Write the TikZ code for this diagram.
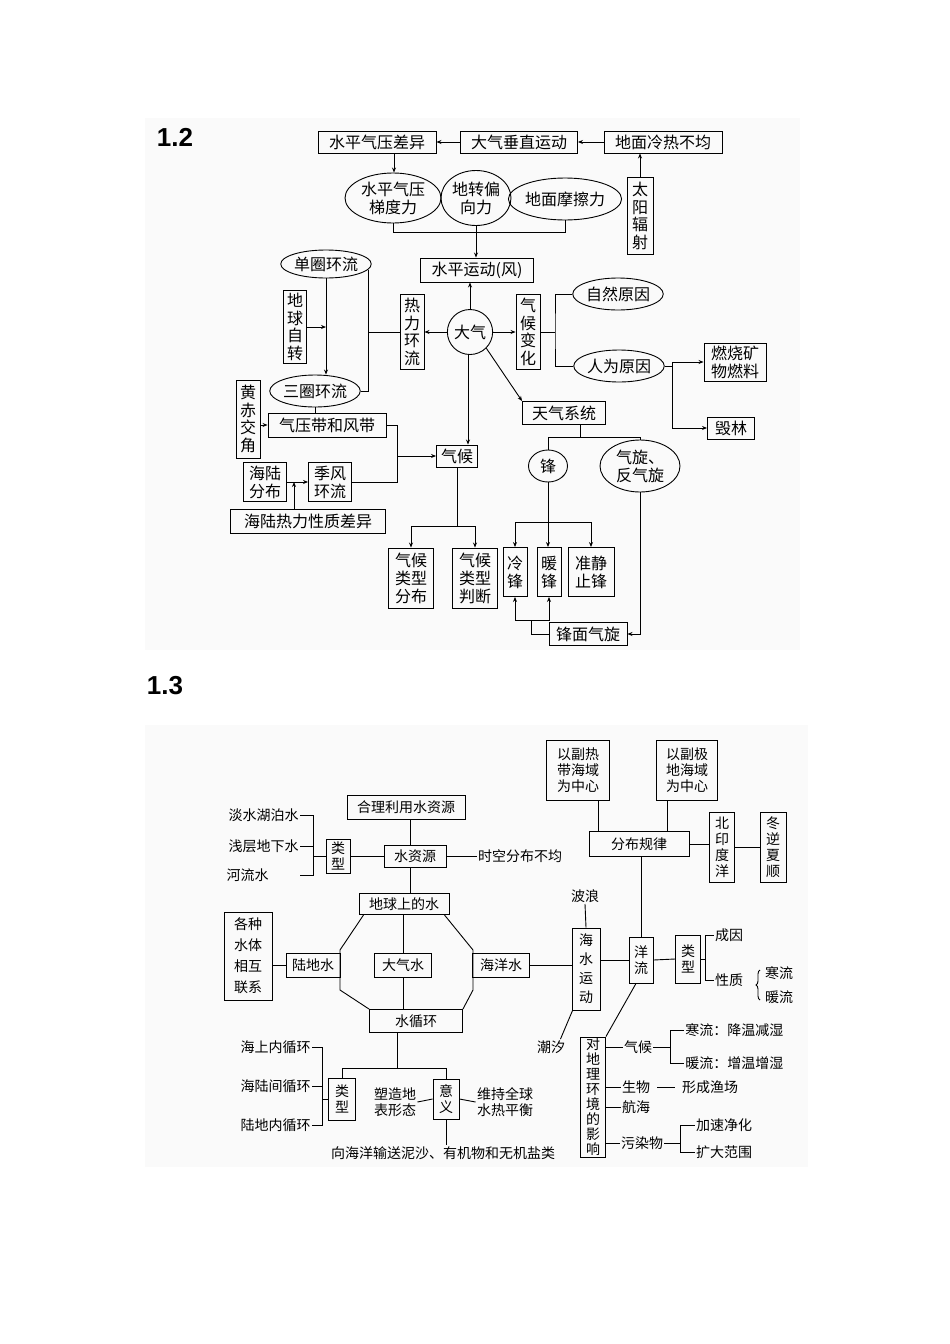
\documentclass[tikz,border=0pt]{standalone}
\usepackage{fontspec}
\setmainfont{Noto Sans CJK SC}
\newfontfamily\labf{Liberation Sans}
\usetikzlibrary{shapes.geometric,arrows.meta,decorations.pathreplacing}
\begin{document}
\begin{tikzpicture}[x=1pt,y=-1pt,line width=0.9pt,
  box/.style={draw,rectangle,inner sep=1pt,align=center},
  el/.style={draw,ellipse,inner sep=0pt,align=center},
  vb/.style={box,font=\fontsize{16}{17.5}\selectfont},
  arr/.style={-{Stealth[length=5pt,width=4pt]}},
  A/.style={font=\fontsize{16}{18}\selectfont},
  B/.style={font=\fontsize{14}{16}\selectfont},
  tx/.style={B,inner sep=1pt,align=center}]
\useasboundingbox (0,0) rectangle (950,1344);
\fill[gray!4] (145,118) rectangle (800,650);
\fill[gray!4] (145,725) rectangle (808,1167);
\node[font=\labf\bfseries\fontsize{26}{28}\selectfont] (L12) at (175,137) {1.2};
\node[font=\labf\bfseries\fontsize{26}{28}\selectfont] (L13) at (165,686) {1.3};
% ---------- 1.2 ----------
\begin{scope}[every node/.append style={A}]
\node[box,minimum width=118,minimum height=22] (a1) at (377,142) {水平气压差异};
\node[box,minimum width=117,minimum height=22] (a2) at (519,142) {大气垂直运动};
\node[box,minimum width=118,minimum height=22] (a3) at (663,142) {地面冷热不均};
\node[vb,minimum width=26,minimum height=77] (sun) at (640,216) {太\\阳\\辐\\射};
\node[el,minimum width=96,minimum height=50] (e1) at (393,198) {水平气压\\梯度力};
\node[el,minimum width=70,minimum height=55] (e2) at (476,198) {地转偏\\向力};
\node[el,minimum width=104,minimum height=42] (e3) at (565,199) {地面摩擦力};
\node[box,minimum width=113,minimum height=24] (wind) at (477,270) {水平运动(风)};
\node[el,minimum width=88,minimum height=28] (danquan) at (326,264) {单圈环流};
\node[vb,minimum width=23,minimum height=73] (diqiu) at (295,327) {地\\球\\自\\转};
\node[vb,minimum width=24,minimum height=75] (reli) at (412,332) {热\\力\\环\\流};
\node[el,minimum width=45,minimum height=45] (daqi) at (470,332) {大气};
\node[vb,minimum width=24,minimum height=75] (qhbh) at (528,332) {气\\候\\变\\化};
\node[el,minimum width=82,minimum height=32] (ziran) at (618,294) {自然原因};
\node[el,minimum width=84,minimum height=32] (renwei) at (619,366) {人为原因};
\node[box,minimum width=62,minimum height=38] (ranshao) at (735,362) {燃烧矿\\物燃料};
\node[box,minimum width=47,minimum height=22] (huilin) at (731,428) {毁林};
\node[el,minimum width=84,minimum height=32] (sanquan) at (315,391) {三圈环流};
\node[vb,minimum width=24,minimum height=78] (huangchi) at (248,419) {黄\\赤\\交\\角};
\node[box,minimum width=118,minimum height=24] (qiya) at (327,425) {气压带和风带};
\node[box,minimum width=41,minimum height=22] (qihou) at (457,456) {气候};
\node[box,minimum width=83,minimum height=23] (tianqi) at (564,413) {天气系统};
\node[box,minimum width=43,minimum height=39] (haelu) at (265,482) {海陆\\分布};
\node[box,minimum width=43,minimum height=39] (jifeng) at (330,482) {季风\\环流};
\node[box,minimum width=155,minimum height=24] (hlre) at (308,521) {海陆热力性质差异};
\node[box,minimum width=45,minimum height=60] (lx1) at (411,578) {气候\\类型\\分布};
\node[box,minimum width=45,minimum height=60] (lx2) at (475,578) {气候\\类型\\判断};
\node[el,minimum width=39,minimum height=32] (feng) at (548,466) {锋};
\node[el,minimum width=80,minimum height=52] (qixuan) at (640,466) {气旋、\\反气旋};
\node[box,minimum width=24,minimum height=49] (leng) at (515,572) {冷\\锋};
\node[box,minimum width=24,minimum height=49] (nuan) at (549,572) {暖\\锋};
\node[box,minimum width=46,minimum height=49] (zhun) at (591,572) {准静\\止锋};
\node[box,minimum width=78,minimum height=23] (fmqx) at (588,634) {锋面气旋};
\end{scope}
\draw[arr] (a2) -- (a1);
\draw[arr] (a3) -- (a2);
\draw[arr] (sun) -- (sun |- a3.south);
\draw[arr] ([xshift=17]a1.south) -- ([xshift=17]a1.south |- e1.north);
\draw (e1.south) -- ++(0,9) -| (e3.south);
\draw[arr] (e2.south) -- (e2.south |- wind.north);
\draw[arr] (daqi.north) -- (daqi.north |- wind.south);
\draw[arr] (daqi.west) -- (reli.east);
\draw[arr] (daqi.east) -- (qhbh.west);
\coordinate (b1) at (555,332);
\draw (qhbh.east) -- (b1);
\draw (ziran.west) -| (b1) |- (renwei.west);
\coordinate (b2) at (672,366);
\draw (renwei.east) -- (b2);
\draw[arr] (b2) |- (ranshao.west);
\draw[arr] (b2) |- (huilin.west);
\coordinate (t0) at (368,270);
\coordinate (t1) at (368,332);
\coordinate (t2) at (368,391);
\draw (t0) -- (t2) -- (sanquan.east);
\draw (reli.west) -- (t1);
\draw[arr] (danquan.south) -- (danquan.south |- sanquan.north);
\draw[arr] (diqiu.east) -- (diqiu.east -| danquan.south);
\draw (sanquan.south) -- (sanquan.south |- qiya.north);
\draw[arr] (huangchi.east |- qiya) -- (qiya.west);
\coordinate (q1) at (397,456);
\draw (qiya.east) -| (q1);
\draw (jifeng.east) -| (q1);
\draw[arr] (q1) -- (qihou.west);
\draw[arr] (haelu.east) -- (jifeng.west);
\draw[arr] ([xshift=-14]hlre.north) -- ([xshift=-14]hlre.north |- haelu.east);
\draw[arr] ([xshift=-2]daqi.south) -- ([xshift=-2]daqi.south |- qihou.north);
\draw[arr] (daqi.south east) -- (tianqi.north west);
\coordinate (c1) at (457,526);
\draw (qihou.south) -- (c1);
\draw[arr] (c1) -| (lx1.north);
\draw[arr] (c1) -| (lx2.north);
\coordinate (c2) at (580,437);
\draw (tianqi.south -| c2) -- (c2);
\draw (c2) -| (feng.north);
\draw (c2) -| (qixuan.north);
\coordinate (c3) at (549,522);
\draw[arr] (feng.south) -- (feng.south |- nuan.north);
\draw[arr] (c3) -| (leng.north);
\draw[arr] (c3) -| (zhun.north);
\draw[arr] (qixuan.south) |- (fmqx.east);
\coordinate (c4) at (531,634);
\coordinate (c5) at (531,620);
\draw (fmqx.west) -- (c4) -- (c5);
\draw[arr] (c5) -| (leng.south);
\draw[arr] (c5) -| (nuan.south);
% ---------- 1.3 ----------
\begin{scope}[every node/.append style={B}]
\node[box,minimum width=63,minimum height=60] (n1) at (578,770) {以副热\\带海域\\为中心};
\node[box,minimum width=61,minimum height=60] (n2) at (687,770) {以副极\\地海域\\为中心};
\node[box,minimum width=100,minimum height=25] (fb) at (639,844) {分布规律};
\node[box,minimum width=25,minimum height=70] (by) at (722,847) {北\\印\\度\\洋};
\node[box,minimum width=26,minimum height=70] (dn) at (773,847) {冬\\逆\\夏\\顺};
\node[box,minimum width=118,minimum height=24] (hl) at (406,807) {合理利用水资源};
\node[box,minimum width=62,minimum height=22] (szy) at (415,856) {水资源};
\node[tx] (sk) at (520,856) {时空分布不均};
\node[box,minimum width=24,minimum height=34] (lx) at (338,856) {类\\型};
\node[tx,anchor=east] (t1) at (300,815) {淡水湖泊水};
\node[tx,anchor=east] (t2) at (300,846) {浅层地下水};
\node[tx,anchor=east] (t3) at (270,875) {河流水};
\node[box,minimum width=90,minimum height=21] (dq) at (404,904) {地球上的水};
\node[box,minimum width=54,minimum height=24] (ld) at (313,965) {陆地水};
\node[box,minimum width=57,minimum height=24] (dqs) at (403,965) {大气水};
\node[box,minimum width=57,minimum height=24] (hy) at (501,965) {海洋水};
\node[box,minimum width=93,minimum height=23] (xh) at (416,1021) {水循环};
\node[box,minimum width=48,minimum height=88,font=\fontsize{14}{21}\selectfont] (gz) at (248,956) {各种\\水体\\相互\\联系};
\node[box,minimum width=28,minimum height=82,font=\fontsize{14}{19}\selectfont] (hs) at (586,969) {海\\水\\运\\动};
\node[tx] (bl) at (585,896) {波浪};
\node[tx] (cx) at (551,1047) {潮汐};
\node[box,minimum width=24,minimum height=46] (yl) at (641,960) {洋\\流};
\node[box,minimum width=25,minimum height=48] (lx2b) at (688,959) {类\\型};
\node[tx] (cy) at (729,935) {成因};
\node[tx] (xz) at (729,980) {性质};
\node[tx] (hl1) at (779,973) {寒流};
\node[tx] (nl1) at (779,997) {暖流};
\node[box,minimum width=25,minimum height=120,font=\fontsize{14}{15}\selectfont] (dy) at (593,1097) {对\\地\\理\\环\\境\\的\\影\\响};
\node[tx] (qh) at (638,1047) {气候};
\node[tx] (sw) at (636,1087) {生物};
\node[tx] (hh) at (636,1107) {航海};
\node[tx] (wr) at (642,1143) {污染物};
\node[tx,anchor=west] (hl2) at (684,1030) {寒流：降温减湿};
\node[tx,anchor=west] (nl2) at (684,1063) {暖流：增温增湿};
\node[tx] (xc) at (710,1087) {形成渔场};
\node[tx] (js) at (724,1125) {加速净化};
\node[tx] (kd) at (724,1152) {扩大范围};
\node[box,minimum width=27,minimum height=42] (lx3) at (342,1099) {类\\型};
\node[box,minimum width=26,minimum height=40] (yy) at (446,1099) {意\\义};
\node[tx,anchor=east] (hs1) at (312,1047) {海上内循环};
\node[tx,anchor=east] (hs2) at (312,1086) {海陆间循环};
\node[tx,anchor=east] (hs3) at (312,1125) {陆地内循环};
\node[tx] (sz) at (395,1102) {塑造地\\表形态};
\node[tx] (wc) at (505,1102) {维持全球\\水热平衡};
\node[tx] (xhy) at (443,1153) {向海洋输送泥沙、有机物和无机盐类};
\end{scope}
\draw ([xshift=20]n1.south) -- ([xshift=20]n1.south |- fb.north);
\draw ([xshift=-20]n2.south) -- ([xshift=-20]n2.south |- fb.north);
\draw (fb.east) -- (fb.east -| by.west);
\draw (by.east) -- (dn.west);
\coordinate (k1) at (313,815);
\coordinate (k3) at (313,875);
\coordinate (k3e) at (300,875);
\draw (t1.east) -- (k1) -- (k3) -- (k3e);
\draw (t2.east) -- (t2.east -| k1);
\draw (lx.west) -- (lx.west -| k1);
\draw (szy.west) -- (lx.east);
\draw (szy.east) -- (sk.west);
\draw ([xshift=-5]szy.north) -- ([xshift=-5]szy.north |- hl.south);
\draw ([xshift=-5]szy.south) -- ([xshift=-5]szy.south |- dq.north);
\coordinate (h1) at (340,950);
\coordinate (h2) at (340,990);
\coordinate (h3) at (473,950);
\coordinate (h4) at (473,990);
\draw ([xshift=5]dq.south west) -- (h1) -- (h2) -- (xh.north west);
\draw ([xshift=-5]dq.south east) -- (h3) -- (h4) -- (xh.north east);
\draw (dq.south -| dqs.north) -- (dqs.north);
\draw (dqs.south) -- (dqs.south |- xh.north);
\draw (gz.east |- ld) -- (ld.west);
\draw (hy.east) -- (hy.east -| hs.west);
\draw (hs.north) -- (bl.south);
\draw ([xshift=1]hs.south west) -- ([xshift=-6]cx.north east);
\draw (hs.east |- yl) -- (yl.west);
\draw (fb.south -| yl) -- (yl.north);
\draw (yl.east) -- (lx2b.west);
\coordinate (m1) at (705,935);
\coordinate (m2) at (705,980);
\draw (lx2b.east) -- (lx2b.east -| m1);
\draw (cy.west) -- (m1) -- (m2) -- (xz.west);
\draw[decorate,decoration={brace,amplitude=4pt}] (760,1000) -- (760,970);
\draw ([xshift=-5]yl.south) -- (dy.north east);
\draw (dy.east |- qh) -- (qh.west);
\draw (dy.east |- sw) -- (sw.west);
\draw (dy.east |- hh) -- (hh.west);
\draw (dy.east |- wr) -- (wr.west);
\coordinate (p1) at (670,1030);
\coordinate (p2) at (670,1063);
\draw (qh.east) -- (qh.east -| p1);
\draw (hl2.west) -- (p1) -- (p2) -- (nl2.west);
\draw[shorten <=6pt,shorten >=6pt] (sw.east) -- (xc.west);
\coordinate (p3) at (680,1125);
\coordinate (p4) at (680,1152);
\draw (wr.east) -- (wr.east -| p3);
\draw (js.west) -- (p3) -- (p4) -- (kd.west);
\coordinate (r1) at (397,1068);
\draw (xh.south -| r1) -- (r1);
\draw (r1) -| (lx3.north);
\draw (r1) -| (yy.north);
\coordinate (s1) at (322,1047);
\coordinate (s3) at (322,1125);
\draw (hs1.east) -- (s1) -- (s3) -- (hs3.east);
\draw (hs2.east) -- (hs2.east -| s1);
\draw (lx3.west) -- (lx3.west -| s1);
\draw (sz.east) -- (yy.west);
\draw (yy.east) -- (wc.west);
\draw (yy.south) -- (yy.south |- xhy.north);
\end{tikzpicture}
\end{document}
